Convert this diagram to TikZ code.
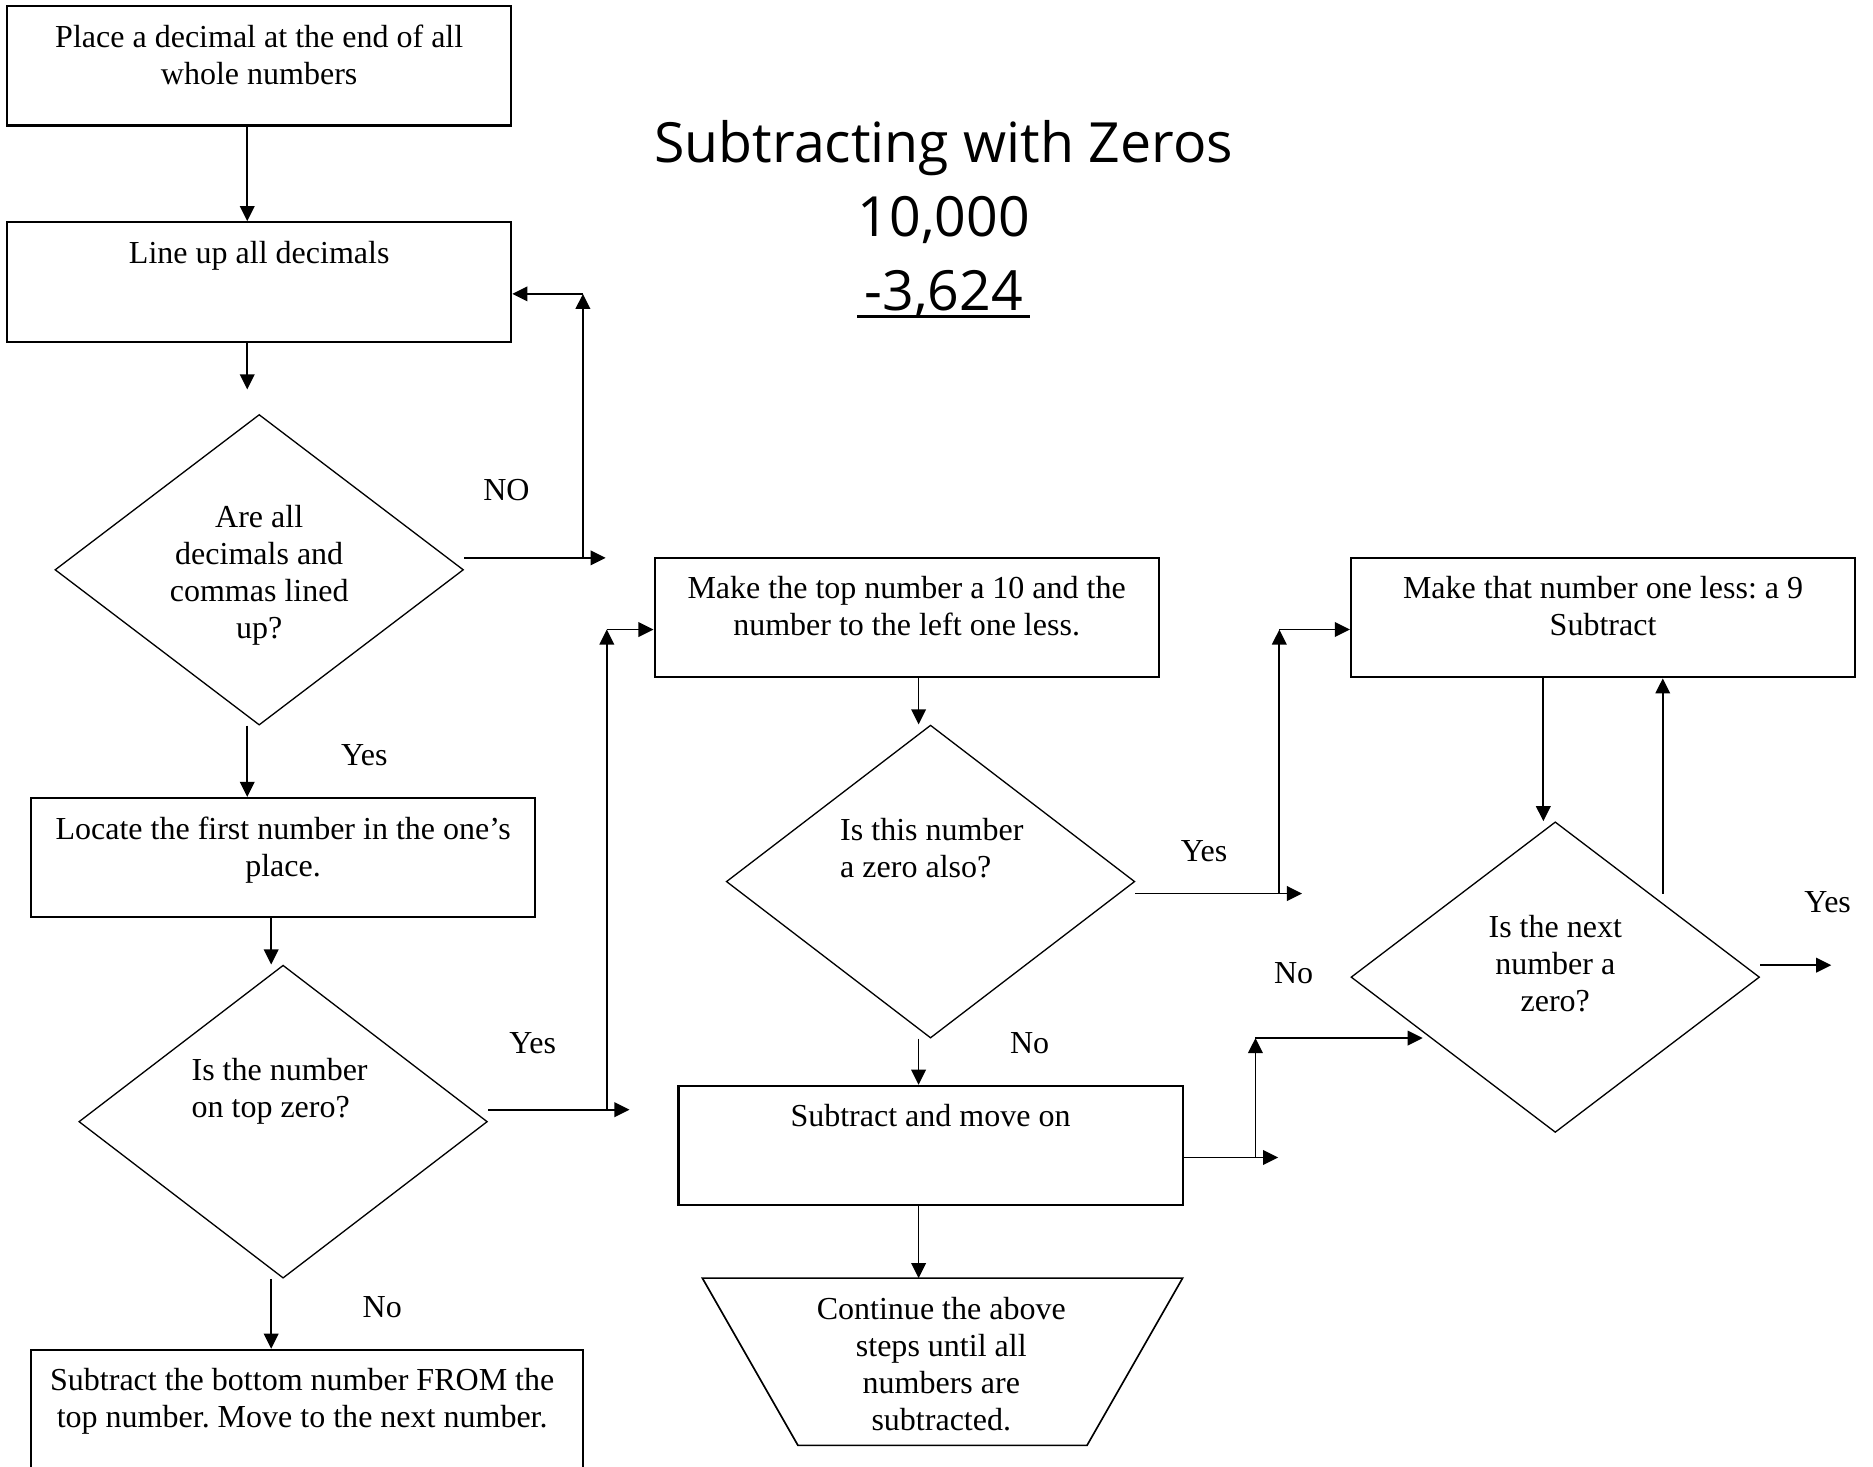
\documentclass[tikz,border=0pt]{standalone}
\usepackage{fontspec}
\setmainfont{Liberation Serif}
\newfontfamily\titlefnt{Open Sans}
\usetikzlibrary{shapes.geometric,arrows.meta}
\newcommand\bodyfnt{\fontsize{13.4}{15.5}\selectfont\frenchspacing}
\begin{document}
\begin{tikzpicture}[x=0.5pt,y=-0.5pt,
  box/.style={draw, line width=0.9pt, rectangle, inner sep=0pt, minimum width=211pt, minimum height=50pt},
  dia/.style={draw, line width=0.55pt, diamond, inner sep=0pt, minimum width=171pt, minimum height=130pt},
  txt/.style={inner sep=0pt, align=center, anchor=north, font=\bodyfnt},
  lbl/.style={inner sep=0pt, anchor=base, font=\bodyfnt},
  arr/.style={line width=0.75pt, -{Triangle[length=6.3pt,width=6.1pt]}},
  ttl/.style={inner sep=0pt, anchor=base, font=\titlefnt\fontsize{23.2}{28}\selectfont},
  shapeline/.style={draw, line width=0.7pt}]
\useasboundingbox (0,0) rectangle (1568,1228);
\clip (0,0) rectangle (1568,1228);
\fill[white] (0,0) rectangle (1568,1228);

% title
\node[ttl] (tt1) at (790,136) {Subtracting with Zeros};
\node[ttl] (tt2) at (790,198) {10,000};
\node[ttl] (tt3) at (790,260) {-3,624};
\path ([yshift=-2.5pt]tt3.base) coordinate (ul);
\draw[line width=1.5pt] (ul -| tt2.west) -- (ul -| tt2.east);

% left column
\node[box] (b1) at (217,55) {};
\node[txt] (b1t) at (217,17.3) {\strut Place a decimal at the end of all\\whole numbers};
\node[box] (b2) at (217,236) {};
\node[txt] (b2t) at (217,198.3) {\strut Line up all decimals};
\node[dia] (d1) at (217,477) {};
\node[txt] (d1t) at (217,419.3) {\strut Are all\\decimals and\\commas lined\\up?};
\node[box] (b3) at (237,718) {};
\node[txt] (b3t) at (237,680.3) {\strut Locate the first number in the one’s\\place.};
\node[dia, minimum height=131pt] (d2) at (237,939) {};
\node[txt, anchor=north west, align=left] (d2t) at (160,882.3) {\strut Is the number\\on top zero?};
\node[box, minimum width=231pt] (b5) at (257,1180) {};
\node[txt] (b5t) at (253,1142.3) {\strut Subtract the bottom number FROM the\\top number. Move to the next number.};

% middle column
\node[box] (b4) at (759,517) {};
\node[txt] (b4t) at (759,479.3) {\strut Make the top number a 10 and the\\number to the left one less.};
\node[dia, minimum height=131pt] (d3) at (779,738) {};
\node[txt, anchor=north west, align=left] (d3t) at (703,681.3) {\strut Is this number\\a zero also?};
\node[box] (b7) at (779,959) {};
\node[txt] (b7t) at (779,921.3) {\strut Subtract and move on};
\draw[shapeline] (588,1070) -- (990,1070) -- (910,1210) -- (668,1210) -- cycle;
\coordinate (trtop) at (769,1070);
\node[txt] (trt) at (788,1082.3) {\strut Continue the above\\steps until all\\numbers are\\subtracted.};

% right column
\node[box] (b6) at (1342,517) {};
\node[txt] (b6t) at (1342,479.3) {\strut Make that number one less: a 9\\Subtract};
\node[dia] (d4) at (1302,818) {};
\node[txt] (d4t) at (1302,762.3) {\strut Is the next\\number a\\zero?};

% labels
\node[lbl] (lNO) at (424,419) {NO};
\node[lbl] (lY1) at (305,641) {Yes};
\node[lbl] (lY2) at (446,882) {Yes};
\node[lbl] (lN2) at (320,1103) {No};
\node[lbl] (lY3) at (1008,721) {Yes};
\node[lbl] (lN3) at (862,882) {No};
\node[lbl] (lN4) at (1083,823) {No};
\node[lbl] (lY4) at (1530,764) {Yes};

% connector points
\coordinate (c1) at (207,326);
\coordinate (nA) at (488,467); \coordinate (nB) at (488,246); \coordinate (nE) at (507,467);
\coordinate (yA) at (508,929); \coordinate (yB) at (508,527); \coordinate (yE) at (527,929);
\coordinate (zA) at (1071,748); \coordinate (zB) at (1071,527); \coordinate (zE) at (1090,748);
\coordinate (wA) at (1051,969); \coordinate (wB) at (1051,869); \coordinate (wE) at (1070,969); \coordinate (wF) at (1191,869);
\coordinate (uA) at (1392,748);
\coordinate (vE) at (1533,808);

% connectors
\draw[arr] ([xshift=-5pt]b1.south) -- ([xshift=-5pt]b2.north);
\draw[arr] ([xshift=-5pt]b2.south) -- (c1);
\draw[arr] ([yshift=5pt]d1.east) -- (nE);
\draw[arr] (nA) -- (nB);
\draw[arr] (nB) -- (nB -| b2.east);
\draw[arr] ([xshift=-5pt]d1.south) -- ([xshift=-15pt]b3.north);
\draw[arr] ([xshift=-5pt]b3.south) -- ([xshift=-5pt]d2.north);
\draw[arr] ([yshift=5pt]d2.east) -- (yE);
\draw[arr] (yA) -- (yB);
\draw[arr] (yB) -- (yB -| b4.west);
\draw[arr] ([xshift=-5pt]d2.south) -- ([xshift=-15pt]b5.north);
\draw[arr] ([xshift=5pt]b4.south) -- ([xshift=-5pt]d3.north);
\draw[arr] ([yshift=-5pt]d3.east) -- (zE);
\draw[arr] (zA) -- (zB);
\draw[arr] (zB) -- (zB -| b6.west);
\draw[arr] ([xshift=-5pt]d3.south) -- ([xshift=-5pt]b7.north);
\draw[arr] ([yshift=-5pt]b7.east) -- (wE);
\draw[arr] (wA) -- (wB);
\draw[arr] (wB) -- (wF);
\draw[arr] ([xshift=-5pt]b7.south) -- (trtop);
\draw[arr] ([xshift=-25pt]b6.south) -- ([xshift=-5pt]d4.north);
\draw[arr] (uA) -- (uA |- b6.south);
\draw[arr] ([yshift=5pt]d4.east) -- (vE);
\end{tikzpicture}
\end{document}
